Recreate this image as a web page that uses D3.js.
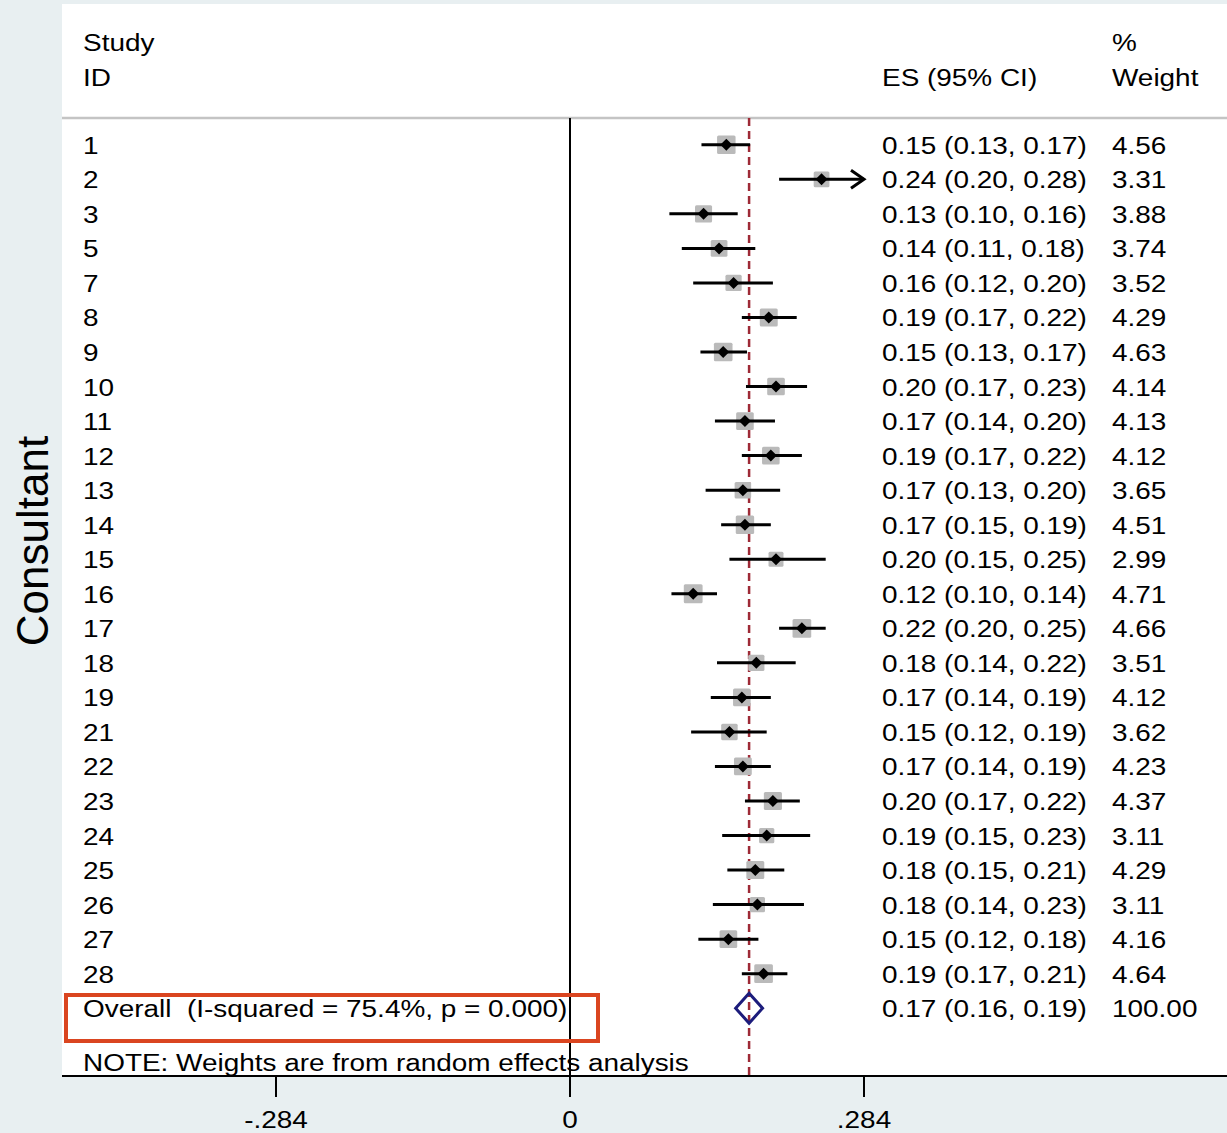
<!DOCTYPE html>
<html>
<head>
<meta charset="utf-8">
<title>Forest plot</title>
<script src="https://cdnjs.cloudflare.com/ajax/libs/d3/7.8.5/d3.min.js"></script>
<style>
body { margin: 0; background: #e8eff1; }
svg text { font-family: Arial, "Liberation Sans", Helvetica, sans-serif; fill: #000; white-space: pre; }
</style>
</head>
<body>
<svg id="chart"></svg>
<script>
// study data
var studyIds = ["1","2","3","5","7","8","9","10","11","12","13","14","15","16","17","18","19","21","22","23","24","25","26","27","28"];
var es = [0.151,0.243,0.129,0.144,0.158,0.192,0.148,0.199,0.169,0.194,0.167,0.169,0.199,0.119,0.224,0.180,0.166,0.154,0.167,0.196,0.190,0.179,0.181,0.153,0.187];
var lo = [0.127,0.202,0.096,0.108,0.119,0.166,0.126,0.170,0.140,0.166,0.131,0.146,0.154,0.098,0.202,0.142,0.136,0.117,0.140,0.169,0.147,0.152,0.138,0.124,0.166];
var hi = [0.174,0.2843,0.162,0.179,0.196,0.219,0.171,0.229,0.198,0.224,0.203,0.194,0.247,0.142,0.247,0.218,0.194,0.190,0.194,0.222,0.232,0.207,0.226,0.182,0.210];
var weights = ["4.56","3.31","3.88","3.74","3.52","4.29","4.63","4.14","4.13","4.12","3.65","4.51","2.99","4.71","4.66","3.51","4.12","3.62","4.23","4.37","3.11","4.29","3.11","4.16","4.64"];
var overall = { label: "Overall  (I-squared = 75.4%, p = 0.000)", es: 0.173, lo: 0.160, hi: 0.186, weight: "100.00" };
var xTicks = [-0.284, 0, 0.284];
var xTickLabels = ["-.284", "0", ".284"];

var W = 1227, H = 1133;
var svg = d3.select("#chart").attr("width", W).attr("height", H);

var x = d3.scaleLinear().domain([-0.284, 0.284]).range([276, 864]);
var y = d3.scaleLinear().domain([0, studyIds.length]).range([144.8, 1008.2]);

var FS = 24.5, SX = 1.14;
function txt(str, tx, ty, anchor) {
  return svg.append("text")
    .attr("transform", "translate(" + tx + "," + ty + ") scale(" + SX + ",1)")
    .attr("font-size", FS)
    .attr("text-anchor", anchor || "start")
    .text(str);
}

// white plot panel
svg.append("rect").attr("x", 62).attr("y", 4).attr("width", W - 62).attr("height", 1076 - 4).attr("fill", "#fff");

// headers
txt("Study", 83, 51);
txt("ID", 83, 86);
txt("ES (95% CI)", 882, 86);
txt("%", 1112, 51);
txt("Weight", 1112, 86);

svg.append("line").attr("x1", 62).attr("x2", W).attr("y1", 118).attr("y2", 118)
  .attr("stroke", "#c4c4c4").attr("stroke-width", 2.5);

// y title
svg.append("text")
  .attr("transform", "translate(48,541) rotate(-90)")
  .attr("text-anchor", "middle")
  .attr("font-size", 44)
  .text("Consultant");

// null line and overall dashed line
svg.append("line").attr("x1", x(0)).attr("x2", x(0)).attr("y1", 118).attr("y2", 1076)
  .attr("stroke", "#000").attr("stroke-width", 2);
svg.append("line").attr("x1", x(overall.es)).attr("x2", x(overall.es)).attr("y1", 118).attr("y2", 1076)
  .attr("stroke", "#9e2a36").attr("stroke-width", 2.5).attr("stroke-dasharray", "8,5");

var data = studyIds.map(function(id, i) {
  return { id: id, es: es[i], lo: lo[i], hi: hi[i], w: weights[i], i: i };
});

var xMax = x.domain()[1];

// weight boxes
svg.selectAll(".box").data(data).enter().append("rect")
  .attr("class", "box")
  .attr("x", function(d) { var s = 8.66 * Math.sqrt(+d.w); return x(d.es) - s / 2; })
  .attr("y", function(d) { var s = 8.66 * Math.sqrt(+d.w); return y(d.i) - s / 2; })
  .attr("width", function(d) { return 8.66 * Math.sqrt(+d.w); })
  .attr("height", function(d) { return 8.66 * Math.sqrt(+d.w); })
  .attr("rx", 1.5)
  .attr("fill", "#bababa");

// CI lines
svg.selectAll(".ci").data(data).enter().append("line")
  .attr("class", "ci")
  .attr("x1", function(d) { return x(d.lo); })
  .attr("x2", function(d) { return x(Math.min(d.hi, xMax)); })
  .attr("y1", function(d) { return y(d.i); })
  .attr("y2", function(d) { return y(d.i); })
  .attr("stroke", "#000").attr("stroke-width", 3);

// arrows for CIs beyond the axis
svg.selectAll(".arrow").data(data.filter(function(d) { return d.hi > xMax; })).enter().append("path")
  .attr("class", "arrow")
  .attr("d", function(d) {
    var tx = x(xMax), ty = y(d.i);
    return "M" + (tx - 13) + "," + (ty - 9) + "L" + tx + "," + ty + "L" + (tx - 13) + "," + (ty + 9);
  })
  .attr("fill", "none").attr("stroke", "#000").attr("stroke-width", 3);

// point estimates
svg.selectAll(".pt").data(data).enter().append("path")
  .attr("class", "pt")
  .attr("d", function(d) {
    var cx = x(d.es), cy = y(d.i), r = 6;
    return "M" + (cx - r) + "," + cy + "L" + cx + "," + (cy - r) + "L" + (cx + r) + "," + cy + "L" + cx + "," + (cy + r) + "Z";
  })
  .attr("fill", "#000");

// overall diamond
var oy = y(studyIds.length);
svg.append("path")
  .attr("d", "M" + x(overall.lo) + "," + oy + "L" + x(overall.es) + "," + (oy - 15) + "L" + x(overall.hi) + "," + oy + "L" + x(overall.es) + "," + (oy + 15) + "Z")
  .attr("fill", "none").attr("stroke", "#1c1c7c").attr("stroke-width", 3);

// row labels
function f2(v) { return v.toFixed(2); }
data.forEach(function(d) {
  var ty = y(d.i) + 9;
  txt(d.id, 83, ty);
  txt(f2(d.es) + " (" + f2(d.lo) + ", " + f2(d.hi) + ")", 882, ty);
  txt(d.w, 1112, ty);
});
txt(overall.label, 83, oy + 9);
txt(f2(overall.es) + " (" + f2(overall.lo) + ", " + f2(overall.hi) + ")", 882, oy + 9);
txt(overall.weight, 1112, oy + 9);
txt("NOTE: Weights are from random effects analysis", 83, 1071);

// highlight box around the overall row
svg.append("rect").attr("x", 66).attr("y", 995).attr("width", 532).attr("height", 46)
  .attr("fill", "none").attr("stroke", "#da4520").attr("stroke-width", 4);

// x axis
svg.append("line").attr("x1", 62).attr("x2", W).attr("y1", 1076).attr("y2", 1076)
  .attr("stroke", "#000").attr("stroke-width", 2);
xTicks.forEach(function(t, i) {
  svg.append("line").attr("x1", x(t)).attr("x2", x(t)).attr("y1", 1076).attr("y2", 1097)
    .attr("stroke", "#000").attr("stroke-width", 2);
  txt(xTickLabels[i], x(t), 1128, "middle");
});
</script>
</body>
</html>
